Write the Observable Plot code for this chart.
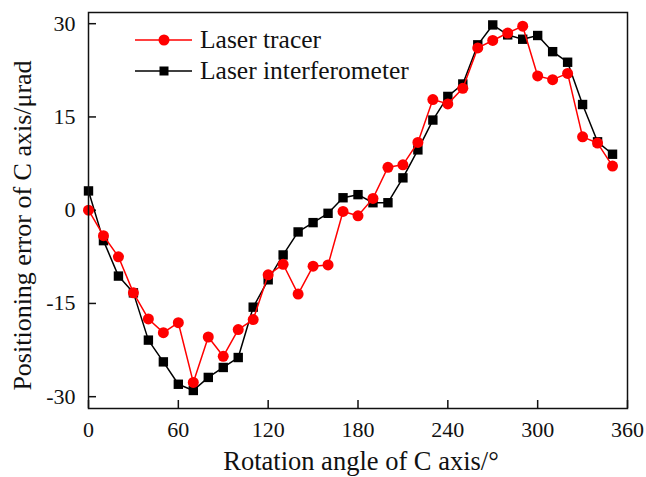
<!DOCTYPE html>
<html><head><meta charset="utf-8">
<script src="https://cdn.jsdelivr.net/npm/d3@7"></script>
<script src="https://cdn.jsdelivr.net/npm/@observablehq/plot@0.6"></script>
<style>
body{margin:0;background:#fff}
#wrap{position:relative;width:646px;height:477px;font-family:"Liberation Serif","Times New Roman",serif}
#legend{position:absolute;left:135px;top:24px}
.row{display:flex;align-items:center;height:31px}
.row span{font-size:25.5px;margin-left:8px;color:#111;line-height:25px}
</style></head><body><div id="wrap"></div>
<script>
const angles = [0,10,20,30,40,50,60,70,80,90,100,110,120,130,140,150,160,170,180,190,200,210,220,230,240,250,260,270,280,290,300,310,320,330,340,350];
const tracer = [0,-4.1,-7.5,-13.3,-17.5,-19.7,-18.1,-27.7,-20.4,-23.5,-19.2,-17.6,-10.4,-8.7,-13.5,-9.0,-8.8,-0.2,-0.9,1.9,6.9,7.3,10.9,17.8,17.1,19.6,26.1,27.3,28.5,29.6,21.6,21.0,22.0,11.8,10.8,7.1];
const interferometer = [3.1,-4.9,-10.6,-13.3,-20.9,-24.4,-28.0,-29.0,-26.9,-25.3,-23.7,-15.6,-11.2,-7.2,-3.5,-2.0,-0.5,2.0,2.5,1.2,1.2,5.2,9.7,14.5,18.3,20.3,26.6,29.8,28.2,27.5,28.1,25.5,23.8,17.0,11.0,9.0];
const xTicks = [0,60,120,180,240,300,360];
const yTicks = [-30,-15,0,15,30];
const seriesNames = ["Laser tracer","Laser interferometer"];
const seriesColors = ["#ff0000","#000000"];

const tr = angles.map((a,i)=>({a, v: tracer[i]}));
const lf = angles.map((a,i)=>({a, v: interferometer[i]}));

const chart = Plot.plot({
  width:646, height:477,
  marginLeft:88, marginRight:19, marginTop:12, marginBottom:69,
  style:{fontFamily:'"Liberation Serif","Times New Roman",serif', background:"white", color:"#111"},
  x:{domain:[0,360]},
  y:{domain:[-31.9,31.8]},
  marks:[
    Plot.axisX(xTicks,{tickSize:-8, tickPadding:21, lineAnchor:"top", fontSize:22, label:null, strokeWidth:1.5, tickFormat:d=>String(d)}),
    Plot.axisY(yTicks,{tickSize:-8, tickPadding:21, fontSize:22, label:null, strokeWidth:1.5, tickFormat:d=>String(d)}),
    Plot.text(["Rotation angle of C axis/°"],{frameAnchor:"bottom", dy:53, dx:3, lineAnchor:"middle", textAnchor:"middle", fontSize:26.5, fill:"#111"}),
    Plot.text(["Positioning error of C axis/μrad"],{frameAnchor:"left", dx:-66, dy:15, rotate:-90, lineAnchor:"middle", textAnchor:"middle", fontSize:26, fill:"#111"}),
    Plot.line(lf,{x:"a", y:"v", stroke:seriesColors[1], strokeWidth:1.5}),
    Plot.dot(lf,{x:"a", y:"v", symbol:"square", fill:seriesColors[1], r:5.3}),
    Plot.line(tr,{x:"a", y:"v", stroke:seriesColors[0], strokeWidth:1.5}),
    Plot.dot(tr,{x:"a", y:"v", symbol:"circle", fill:seriesColors[0], r:5.5}),
    Plot.frame({stroke:"#111", strokeWidth:1.5})
  ]
});
const wrap = document.getElementById("wrap");
wrap.appendChild(chart);

const legend = document.createElement("div");
legend.id = "legend";
seriesNames.forEach((name,i)=>{
  const row = document.createElement("div");
  row.className = "row";
  const c = seriesColors[i];
  const marker = i===0
    ? `<circle cx="29" cy="12" r="5.5" fill="${c}"/>`
    : `<rect x="24.5" y="7.5" width="9" height="9" fill="${c}"/>`;
  row.innerHTML = `<svg width="57" height="24"><line x1="0" x2="57" y1="12" y2="12" stroke="${c}" stroke-width="1.5"/>${marker}</svg><span>${name}</span>`;
  legend.appendChild(row);
});
wrap.appendChild(legend);
</script></body></html>
